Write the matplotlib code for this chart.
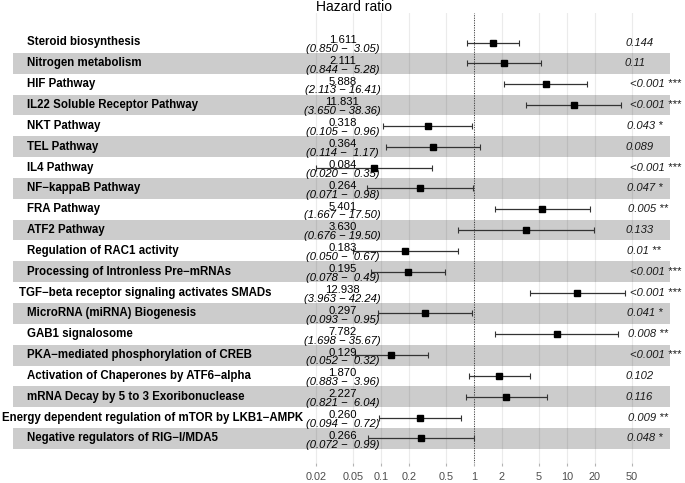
import numpy as np
import matplotlib.pyplot as plt
import matplotlib.transforms as mtransforms

plt.rcParams['font.family'] = ['Liberation Sans', 'DejaVu Sans']

# pathway names, hazard ratios, confidence limits, p-values
names = ["Steroid biosynthesis", "Nitrogen metabolism", "HIF Pathway",
         "IL22 Soluble Receptor Pathway", "NKT Pathway", "TEL Pathway",
         "IL4 Pathway", "NF\u2212kappaB Pathway", "FRA Pathway", "ATF2 Pathway",
         "Regulation of RAC1 activity", "Processing of Intronless Pre\u2212mRNAs",
         "TGF\u2212beta receptor signaling activates SMADs",
         "MicroRNA (miRNA) Biogenesis", "GAB1 signalosome",
         "PKA\u2212mediated phosphorylation of CREB",
         "Activation of Chaperones by ATF6\u2212alpha",
         "mRNA Decay by 5 to 3 Exoribonuclease",
         "Energy dependent regulation of mTOR by LKB1\u2212AMPK",
         "Negative regulators of RIG\u2212I/MDA5"]
hr = [1.611, 2.111, 5.888, 11.831, 0.318, 0.364, 0.084, 0.264, 5.401, 3.630,
      0.183, 0.195, 12.938, 0.297, 7.782, 0.129, 1.870, 2.227, 0.260, 0.266]
lo = [0.850, 0.844, 2.113, 3.650, 0.105, 0.114, 0.020, 0.071, 1.667, 0.676,
      0.050, 0.078, 3.963, 0.093, 1.698, 0.052, 0.883, 0.821, 0.094, 0.072]
hi = [3.05, 5.28, 16.41, 38.36, 0.96, 1.17, 0.35, 0.98, 17.50, 19.50,
      0.67, 0.49, 42.24, 0.95, 35.67, 0.32, 3.96, 6.04, 0.72, 0.99]
pvals = ["0.144", "0.11", "<0.001 ***", "<0.001 ***", "0.043 *", "0.089",
         "<0.001 ***", "0.047 *", "0.005 **", "0.133", "0.01 **", "<0.001 ***",
         "<0.001 ***", "0.041 *", "0.008 **", "<0.001 ***", "0.102", "0.116",
         "0.009 **", "0.048 *"]
ticks = [0.02, 0.05, 0.1, 0.2, 0.5, 1, 2, 5, 10, 20, 50]

W, H = 685, 483
fig = plt.figure(figsize=(W / 100, H / 100), dpi=100)
ax = fig.add_axes([0, (H - 463) / H, 1, 450 / H])

# x: log scale, 1 at px 474, one decade = 93 px
ax.set_xscale('log')
ax.set_xlim(10 ** (-474 / 93), 10 ** ((W - 474) / 93))
step = 20.84
ax.set_ylim((463 - 42.5) / step, (13 - 42.5) / step)

y = np.arange(len(names))
bt = mtransforms.blended_transform_factory(ax.transAxes, ax.transData)

ax.set_xticks(ticks)
ax.set_xticklabels([f"{t:g}" for t in ticks])
ax.minorticks_off()
ax.set_yticks([])
ax.tick_params(axis='x', length=2.5, color='#B3B3B3', pad=4,
               labelsize=7.8, labelcolor='#4D4D4D')
for s in ax.spines.values():
    s.set_visible(False)
for t in ticks:
    ax.axvline(t, color='#EBEBEB', lw=0.8, zorder=0)

# alternating bands
for i in y:
    if i % 2 == 1:
        ax.add_patch(plt.Rectangle((13 / W, i - 0.5), (670 - 13) / W, 1,
                                   transform=bt, facecolor='black', alpha=0.2,
                                   lw=0, zorder=1))

ax.axvline(1, color='#333333', ls=(0, (1, 1.5)), lw=0.7, zorder=2)

hr_a, lo_a, hi_a = np.array(hr), np.array(lo), np.array(hi)
ax.errorbar(hr_a, y, xerr=[hr_a - lo_a, hi_a - hr_a], fmt='none',
            ecolor='#333333', elinewidth=0.9, capsize=2, capthick=0.8, zorder=3)
ax.plot(hr_a, y, 's', color='black', ms=5, zorder=4)

name_texts = []
p_texts = []
for i in y:
    t = ax.text(27 / W, i, names[i], transform=bt, ha='left', va='center',
                fontsize=8.3, fontweight='bold', color='black', clip_on=False)
    name_texts.append(t)
    ax.text(342.5 / W, i + 0.02, f"{hr[i]:.3f}", transform=bt, ha='center',
            va='baseline', fontsize=8.1, color='black')
    ax.text(342.5 / W, i + 0.06, f"({lo[i]:.3f} \u2212 {hi[i]:5.2f})",
            transform=bt, ha='center', va='top', fontsize=8.1,
            fontstyle='italic', color='black')
    pt = ax.text(620 / W, i, pvals[i], transform=bt, ha='left', va='center',
                 fontsize=8.1, fontstyle='italic', color='#1A1A1A', clip_on=False)
    p_texts.append(pt)

fig.text(354 / W, 1 - 7 / H, "Hazard ratio", ha='center', va='center',
         fontsize=10, color='black')

# text nudges like the original layout
fig.canvas.draw()
r = fig.canvas.get_renderer()
for t in name_texts:
    w = t.get_window_extent(r).width
    x0 = 27 - 0.35 * max(0, w - 229)
    t.set_x(max(x0, 1) / W)
for t in p_texts:
    w = t.get_window_extent(r).width
    t.set_x((620 + 0.2 * w) / W)

fig.savefig('out.png', dpi=100)
